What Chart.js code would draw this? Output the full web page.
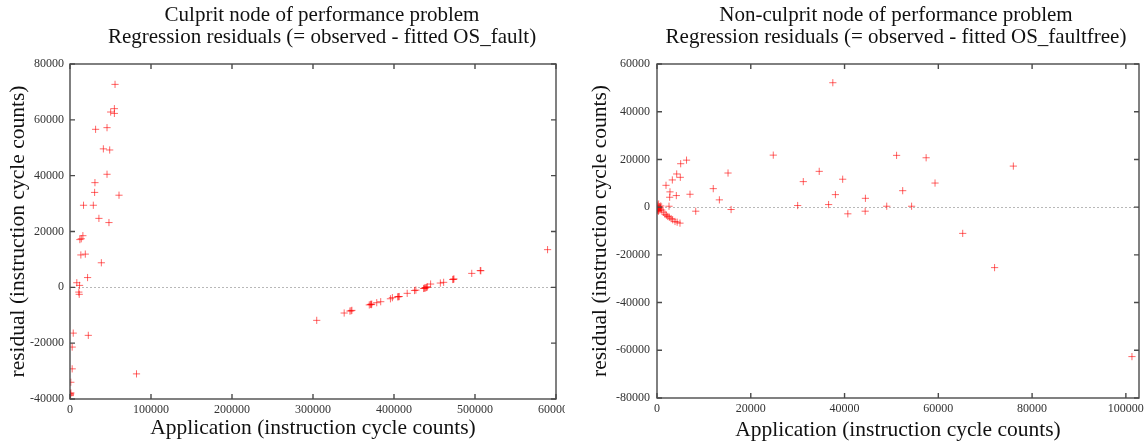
<!DOCTYPE html>
<html>
<head>
<meta charset="utf-8">
<script src="https://cdn.jsdelivr.net/npm/chart.js@4.4.1/dist/chart.umd.min.js"></script>
<style>
  html, body { margin: 0; padding: 0; background: #fff; }
  #wrapL { position: absolute; left: 0; top: 0; width: 565px; height: 445px; }
  #wrapR { position: absolute; left: 570px; top: 0; width: 575px; height: 445px; }
</style>
</head>
<body>
<div id="wrapL"><canvas id="cL"></canvas></div>
<div id="wrapR"><canvas id="cR"></canvas></div>
<script>
// ---------- Data ----------
const leftTitle = ["Culprit node of performance problem", "Regression residuals (= observed - fitted OS_fault)"];
const rightTitle = ["Non-culprit node of performance problem", "Regression residuals (= observed - fitted OS_faultfree)"];
const xAxisTitle = "Application (instruction cycle counts)";
const yAxisTitle = "residual (instruction cycle counts)";

const leftXTicks = [0, 100000, 200000, 300000, 400000, 500000, 600000];
const leftYTicks = [-40000, -20000, 0, 20000, 40000, 60000, 80000];
const rightXTicks = [0, 20000, 40000, 60000, 80000, 100000];
const rightYTicks = [-80000, -60000, -40000, -20000, 0, 20000, 40000, 60000];

const leftX = [
  55600, 54800, 50200, 54800, 31600, 45700, 41200, 49000, 45700, 60500,
  30800, 30400, 16700, 28800, 35700, 48100, 15900, 13900, 12200, 18900,
  13400, 38700, 21700, 8400, 11800, 10900, 11400, 4000, 22600, 2700,
  2700, 1000, 82100, 0, 500, 1000, 300, 800,
  304600, 338500, 345600, 348000, 347000, 369500, 372500, 371000, 372000, 378700,
  383600, 395600, 398000, 405500, 406500, 404500, 416300, 425300, 427000, 436500,
  438200, 439500, 440500, 438000, 441000, 445200, 457200, 461300, 472500, 473300,
  474000, 496000, 507200, 506500, 589600
];
const leftY = [
  72700, 64000, 62800, 62300, 56600, 57200, 49600, 49200, 40500, 33000,
  37500, 34000, 29400, 29400, 24700, 23200, 18500, 17400, 17100, 11900,
  11600, 8800, 3500, 1650, 700, -1700, -2500, -16400, -17200, -21400,
  -29200, -34000, -31000, -38000, -38500, -37800, -38800, -38200,
  -11830, -9200, -8500, -8250, -8400, -6300, -6000, -6100, -6200, -5500,
  -5150, -4100, -3700, -3350, -3300, -3400, -2150, -1150, -1000, -400,
  -250, -100, 0, -300, 200, 1180, 1540, 1790, 2800, 2870,
  3000, 5000, 5950, 6000, 13500
];

const rightX = [
  37500, 24800, 51100, 57400, 6300, 5050, 76000, 15150, 4200, 34600,
  4970, 3270, 39600, 31200, 59300, 1920, 12000, 2770, 52400, 7040,
  4120, 38050, 2700, 13300, 44450, 30000, 36600, 49000, 54300, 2560,
  8260, 15800, 40700, 44400, 65200, 72000, 101300,
  1350, 1700, 2000, 2300, 2620, 3000, 3340, 3840, 4300, 4900,
  0, 100, 200, 300, 400, 500, 600, 150, 700, 800, 1000, 250, 50, 350
];
const rightY = [
  52150, 21800, 21700, 20700, 19700, 18200, 17200, 14300, 13900, 15000,
  12500, 11400, 11700, 10700, 10100, 9150, 7750, 6400, 6900, 5400,
  4850, 5250, 4150, 3050, 3700, 670, 1080, 380, 380, 380,
  -1700, -1000, -2800, -1700, -11000, -25350, -62650,
  -2100, -3000, -3400, -3900, -4200, -4800, -5300, -6000, -6300, -6700,
  -1000, -1300, -800, -1500, -500, 200, -1200, 800, -300, 500, -1200, -1700, -400, 1300
];

// ---------- Styling / helpers ----------
const SERIF = '"Liberation Serif", "Times New Roman", serif';
const fmt = v => String(v);

const framePlugin = {
  id: 'frame',
  beforeDatasetsDraw(chart) {
    const {ctx, chartArea: a, scales} = chart;
    const y0 = scales.y.getPixelForValue(0);
    ctx.save();
    ctx.strokeStyle = '#b8b8b8';
    ctx.lineWidth = 1;
    ctx.setLineDash([2, 2]);
    ctx.beginPath();
    ctx.moveTo(a.left, Math.round(y0) + 0.5);
    ctx.lineTo(a.right, Math.round(y0) + 0.5);
    ctx.stroke();
    ctx.restore();
  },
  afterDraw(chart, args, opts) {
    const {ctx, chartArea: a, scales} = chart;
    const tl = 5;
    ctx.save();
    ctx.strokeStyle = '#4a4a4a';
    ctx.lineWidth = 1.4;
    ctx.beginPath();
    scales.x.ticks.forEach(t => {
      const px = scales.x.getPixelForValue(t.value);
      ctx.moveTo(px, a.bottom); ctx.lineTo(px, a.bottom - tl);
      ctx.moveTo(px, a.top); ctx.lineTo(px, a.top + tl);
    });
    scales.y.ticks.forEach(t => {
      const py = scales.y.getPixelForValue(t.value);
      ctx.moveTo(a.left, py); ctx.lineTo(a.left + tl, py);
      ctx.moveTo(a.right, py); ctx.lineTo(a.right - tl, py);
    });
    ctx.stroke();
    ctx.strokeRect(a.left, a.top, a.right - a.left, a.bottom - a.top);
    // two-line title
    ctx.fillStyle = '#111';
    ctx.font = '21px ' + SERIF;
    ctx.textAlign = 'center';
    ctx.textBaseline = 'middle';
    const cx = (a.left + a.right) / 2 + opts.dx;
    opts.lines.forEach((s, i) => ctx.fillText(s, cx, opts.y0 + i * 22));
    ctx.restore();
  }
};

function makeChart(id, xs, ys, xTicks, yTicks, xMax, cfg) {
  const pts = xs.map((x, i) => ({x: x, y: ys[i]}));
  return new Chart(document.getElementById(id), {
    type: 'scatter',
    data: { datasets: [{
      data: pts,
      pointStyle: 'cross',
      pointRadius: 3.6,
      pointHoverRadius: 3.6,
      borderWidth: 1,
      borderColor: 'rgba(255,0,0,0.6)',
      backgroundColor: 'rgba(255,0,0,0.6)'
    }]},
    options: {
      responsive: true,
      maintainAspectRatio: false,
      animation: false,
      events: [],
      layout: { padding: { left: 0, right: cfg.padRight, top: 64, bottom: 0 } },
      plugins: {
        legend: { display: false },
        tooltip: { enabled: false },
        frame: { lines: cfg.title, dx: cfg.titleDx, y0: 15 }
      },
      scales: {
        x: {
          type: 'linear',
          min: xTicks[0],
          max: xMax,
          afterBuildTicks: s => { s.ticks = xTicks.map(v => ({value: v})); },
          afterFit: s => { s.height = cfg.xHeight; s.paddingLeft = 0; s.paddingRight = 0; },
          grid: { display: false, drawTicks: false },
          border: { display: false },
          ticks: { callback: fmt, padding: 4, maxRotation: 0, autoSkip: false,
                   color: '#333', font: { family: SERIF, size: 12 } },
          title: { display: true, text: xAxisTitle, color: '#111',
                   font: { family: SERIF, size: 21.5 }, padding: { top: 0, bottom: cfg.xTitlePad } }
        },
        y: {
          type: 'linear',
          min: yTicks[0],
          max: yTicks[yTicks.length - 1],
          afterBuildTicks: s => { s.ticks = yTicks.map(v => ({value: v})); },
          afterFit: s => { s.width = cfg.yWidth; },
          grid: { display: false, drawTicks: false },
          border: { display: false },
          ticks: { callback: fmt, padding: cfg.yTickPad, autoSkip: false,
                   color: '#333', font: { family: SERIF, size: 12 } },
          title: { display: true, text: yAxisTitle, color: '#111',
                   font: { family: SERIF, size: 21.5 }, padding: { top: cfg.yTitlePad, bottom: 0 } }
        }
      }
    },
    plugins: [framePlugin]
  });
}

makeChart('cL', leftX, leftY, leftXTicks, leftYTicks, 600000, {
  title: leftTitle, titleDx: 9, padRight: 9, yWidth: 70, xHeight: 46,
  yTickPad: 6, yTitlePad: 5, xTitlePad: 4
});
makeChart('cR', rightX, rightY, rightXTicks, rightYTicks, 102800, {
  title: rightTitle, titleDx: -2, padRight: 6, yWidth: 87, xHeight: 47,
  yTickPad: 7, yTitlePad: 17, xTitlePad: 2
});
</script>
</body>
</html>
